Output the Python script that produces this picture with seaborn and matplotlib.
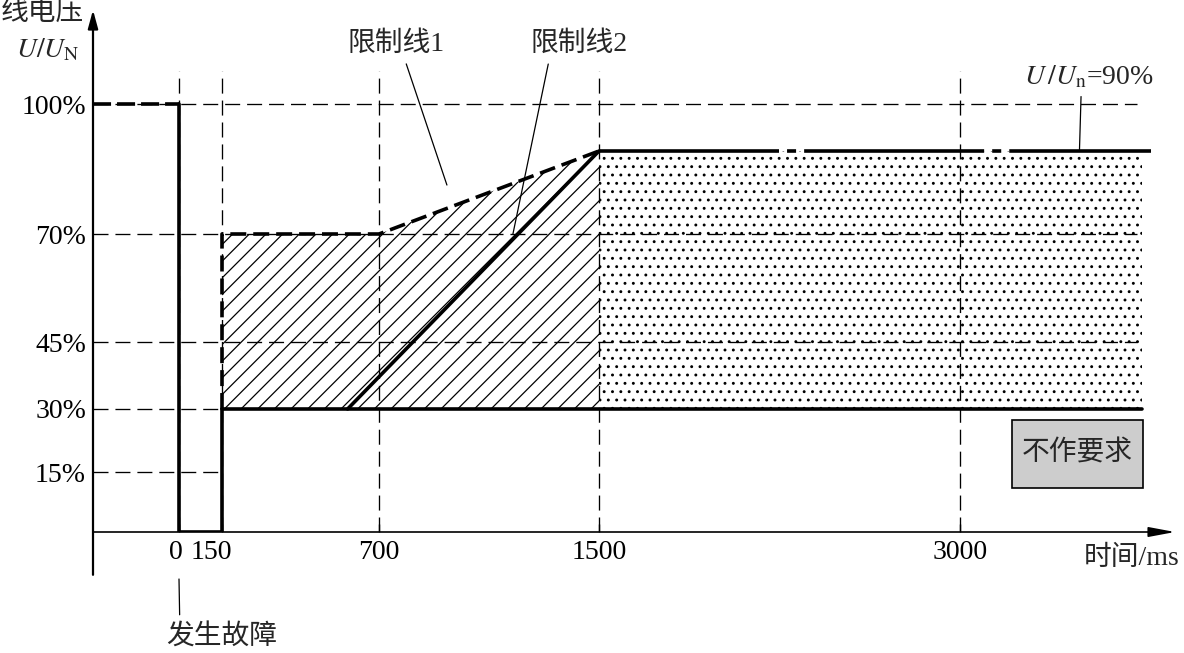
import numpy as np
import matplotlib
matplotlib.use("Agg")
import matplotlib.pyplot as plt
import matplotlib.transforms as mtransforms
from matplotlib.patches import Rectangle
import seaborn as sns

# 数据: 时间 (ms) 与 线电压 U/UN (%)
fault_t = [0, 0, 150, 150]
fault_u = [100, 0, 0, 30]
prefault_t = [-300, 0]
prefault_u = [100, 100]
limit1_t = [150, 150, 700, 1500]
limit1_u = [30, 70, 70, 90]
limit2_t = [590, 1500]
limit2_u = [30, 90]
floor_t = [150, 3760]
floor_u = [30, 30]
ceiling_t = [1500, 3800]
ceiling_u = [90, 90]

time_ticks = [0, 150, 700, 1500, 3000]
time_labels = ["0", "150", "700", "1500", "3000"]
volt_ticks = [15, 30, 45, 70, 100]
volt_labels = ["15%", "30%", "45%", "70%", "100%"]
long_grid = [45, 70, 100]
short_grid = [15, 30]

# 示意图坐标轴不等比例, 用分段线性刻度还原 (单位: 像素)
t_knots = [-300, 0, 150, 700, 1500, 3000, 3900]
t_pos = [0, 86, 129, 286, 506, 867, 1082]
u_knots = [0, 15, 30, 45, 70, 90, 100, 120]
u_pos = [0, 60, 123, 190, 298, 381, 428, 522]


def piecewise(xk, yk):
    xk = np.asarray(xk, float)
    yk = np.asarray(yk, float)

    def f(v):
        v = np.asarray(v, float)
        out = np.interp(v, xk, yk)
        lo = yk[0] + (v - xk[0]) * (yk[1] - yk[0]) / (xk[1] - xk[0])
        hi = yk[-1] + (v - xk[-1]) * (yk[-1] - yk[-2]) / (xk[-1] - xk[-2])
        out = np.where(v < xk[0], lo, out)
        out = np.where(v > xk[-1], hi, out)
        return out
    return f


sns.set_theme(style="white")
plt.rcParams["font.family"] = ["Liberation Serif", "Noto Sans CJK SC"]
plt.rcParams["mathtext.fontset"] = "stix"
plt.rcParams["lines.scale_dashes"] = False
plt.rcParams["hatch.linewidth"] = 0.9

fig = plt.figure(figsize=(11.84, 6.53), dpi=100)
ax = fig.add_axes([93 / 1184, 121 / 653, 1082 / 1184, 522 / 653])
ax.set_xscale("function", functions=(piecewise(t_knots, t_pos), piecewise(t_pos, t_knots)))
ax.set_yscale("function", functions=(piecewise(u_knots, u_pos), piecewise(u_pos, u_knots)))
ax.set_xlim(-300, 3900)
ax.set_ylim(0, 120)
for s in ax.spines.values():
    s.set_visible(False)

thin = dict(color="black", lw=0.95, linestyle=(0, (10.8, 5)), zorder=2)
thick = dict(color="black", lw=2.6, zorder=4)

# 区域填充
ax.fill(limit1_t + [1500], limit1_u + [30], facecolor="white", edgecolor="black",
        hatch="//", linewidth=0, zorder=1)
ax.fill_between([1500, 3760], 30, 90, facecolor="white", edgecolor="black",
                hatch="..", linewidth=0, zorder=1)

# 虚线网格
for u in long_grid:
    ax.plot([-300, 3740], [u, u], **thin)
for u in short_grid:
    ax.plot([-300, 150], [u, u], **thin)
for t in time_ticks:
    ax.plot([t, t], [0, 107], **thin)

# 主要曲线
sns.lineplot(x=fault_t, y=fault_u, sort=False, estimator=None, ax=ax, **thick)
sns.lineplot(x=limit2_t, y=limit2_u, sort=False, estimator=None, ax=ax, **thick)
sns.lineplot(x=floor_t, y=floor_u, sort=False, estimator=None, ax=ax, **thick)
ax.plot(prefault_t, prefault_u, color="black", lw=2.6, linestyle=(0, (13, 4.3)), zorder=4)
ax.plot(limit1_t, limit1_u, color="black", lw=2.6, linestyle=(0, (11.5, 5)), zorder=4)
ax.plot(ceiling_t, ceiling_u, color="black", lw=2.6,
        linestyle=(0, (129.6, 5.8, 6.5, 5.8)), zorder=4)

# 刻度
ax.set_xticks(time_ticks, time_labels)
ax.set_yticks(volt_ticks, volt_labels)
ax.tick_params(axis="x", direction="in", length=5.8, width=1, pad=6,
               labelsize=20, colors="black", bottom=True)
ax.tick_params(axis="y", length=0, pad=5, labelsize=20, colors="black")
shifts = [-3, -11, 0, 0, 0]
for lbl, dx in zip(ax.get_xticklabels(), shifts):
    lbl.set_transform(lbl.get_transform() +
                      mtransforms.ScaledTranslation(dx / 100, 0, fig.dpi_scale_trans))

# 坐标轴箭头
ax.annotate("", xy=(0, 1), xycoords="axes fraction", xytext=(0, -0.082),
            arrowprops=dict(arrowstyle="-|>,head_length=1.1,head_width=0.3", lw=1.6,
                            color="black", mutation_scale=10, shrinkA=0, shrinkB=0))
ax.annotate("", xy=(1, 0), xycoords="axes fraction", xytext=(0, 0),
            arrowprops=dict(arrowstyle="-|>,head_length=1.6,head_width=0.3", lw=1.2,
                            color="black", mutation_scale=10, shrinkA=0, shrinkB=0))

# 标注
lead = dict(arrowstyle="-", lw=0.9, color="black", shrinkB=0)
ax.annotate("限制线1", xy=(947, 81.8), xytext=(762, 112.8), ha="center", va="center",
            fontsize=20, arrowprops=dict(relpos=(0.58, 0), shrinkA=3, **lead))
ax.annotate("限制线2", xy=(1187, 70), xytext=(1427, 112.8), ha="center", va="center",
            fontsize=20, arrowprops=dict(relpos=(0.2, 0), shrinkA=3, **lead))
ax.annotate(r"$U\,/U_{\rm n}$=90%", xy=(3500, 90), xytext=(3540, 105.7), ha="center",
            va="center", fontsize=20, arrowprops=dict(relpos=(0.44, 0), shrinkA=2, **lead))
ax.annotate("发生故障", xy=(0, 653 - 579), xycoords=("data", "figure pixels"),
            xytext=(150, 653 - 638), textcoords=("data", "figure pixels"),
            ha="center", va="center", fontsize=20,
            arrowprops=dict(relpos=(0.12, 1), shrinkA=5, **lead))

ax.add_patch(Rectangle((3216, 11), 3768 - 3216, 27.4 - 11, facecolor="#cdcdcd",
                       edgecolor="black", lw=1.2, zorder=5))
ax.text(3492, 19.3, "不作要求", ha="center", va="center", fontsize=20, zorder=6)

fig.text(1 / 1184, 1 - 13 / 653, "线电压", ha="left", va="center", fontsize=20)
fig.text(80 / 1184, 1 - 50 / 653, r"$U/U_{\rm N}$", ha="right", va="center", fontsize=20)
fig.text(1180 / 1184, 1 - 558 / 653, "时间/ms", ha="right", va="center", fontsize=20)

fig.savefig("out.png", dpi=100)
